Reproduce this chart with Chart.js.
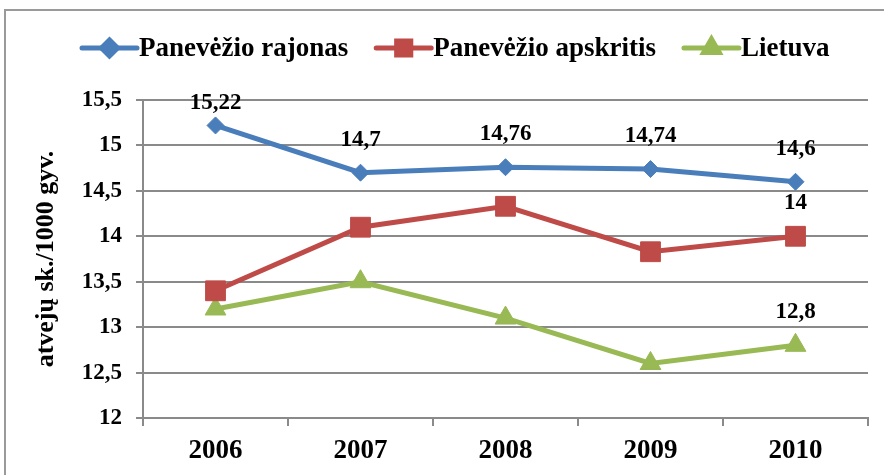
<!DOCTYPE html>
<html>
<head>
<meta charset="utf-8">
<script src="https://cdn.jsdelivr.net/npm/chart.js@4/dist/chart.umd.min.js"></script>
<style>
body { margin: 0; background: #fff; }
#wrap { position: relative; width: 884px; height: 475px; }
</style>
</head>
<body>
<div id="wrap"><canvas id="chart_1" width="884" height="475"></canvas></div>
<script>
const years = ["2006", "2007", "2008", "2009", "2010"]
const rajonas = [15.22, 14.7, 14.76, 14.74, 14.6]
const apskritis = [13.4, 14.1, 14.33, 13.83, 14]
const lietuva = [13.2, 13.5, 13.1, 12.6, 12.8]
const rajonas_labels = [true, true, true, true, true]
const apskritis_labels = [false, false, false, false, true]
const lietuva_labels = [false, false, false, false, true]
const y_ticks = [12, 12.5, 13, 13.5, 14, 14.5, 15, 15.5]

const serif = "'Liberation Serif', 'Times New Roman', serif"
const blue = "#4a7ebb"
const red = "#be4b48"
const green = "#98b954"
const grid_color = "#8a8a8a"

function comma(v){
    return String(v).replace(".", ",")
}

const value_labels = {
    id: "value_labels",
    afterDatasetsDraw(chart){
        let ctx = chart.ctx
        ctx.save()
        ctx.font = "bold 23px " + serif
        ctx.fillStyle = "#000"
        ctx.textAlign = "center"
        ctx.textBaseline = "middle"
        chart.data.datasets.forEach((ds, i) => {
            let meta = chart.getDatasetMeta(i)
            meta.data.forEach((pt, j) => {
                if(!ds.show_labels[j]) return
                let y = Math.max(pt.y - 33, chart.chartArea.top + 3)
                ctx.fillText(comma(ds.data[j]), pt.x, y)
            })
        })
        ctx.restore()
    }
}

const frame_and_legend = {
    id: "frame_and_legend",
    beforeDraw(chart){
        let ctx = chart.ctx
        ctx.save()
        ctx.strokeStyle = "#9a9a9a"
        ctx.lineWidth = 2
        ctx.beginPath()
        ctx.moveTo(5, 475)
        ctx.lineTo(5, 10)
        ctx.lineTo(884, 10)
        ctx.stroke()
        ctx.restore()
    },
    afterDraw(chart){
        let ctx = chart.ctx
        ctx.save()
        ctx.font = "bold 27px " + serif
        ctx.textBaseline = "middle"
        let x = 82
        let y = 48
        chart.data.datasets.forEach(ds => {
            ctx.strokeStyle = ds.borderColor
            ctx.lineWidth = 5
            ctx.lineCap = "round"
            ctx.beginPath()
            ctx.moveTo(x, y)
            ctx.lineTo(x + 55, y)
            ctx.stroke()
            Chart.helpers.drawPoint(ctx, {
                pointStyle: ds.pointStyle,
                radius: ds.legend_radius,
                borderWidth: 1,
                rotation: 0
            }, x + 27.5, y)
            ctx.fillStyle = ds.borderColor
            ctx.fill()
            ctx.fillStyle = "#000"
            ctx.fillText(ds.label, x + 57, y + 1)
            x += 57 + ctx.measureText(ds.label).width + 28
        })
        ctx.restore()
    }
}

function series(label, data, color, style, radius, legend_radius, shown){
    return {
        label: label,
        data: data,
        borderColor: color,
        backgroundColor: color,
        pointBackgroundColor: color,
        pointBorderColor: color,
        borderWidth: 5,
        pointStyle: style,
        pointRadius: radius,
        pointHoverRadius: radius,
        pointBorderWidth: 1,
        legend_radius: legend_radius,
        show_labels: shown,
        tension: 0
    }
}

const ctx_1 = document.getElementById("chart_1").getContext("2d")
const chart_1 = new Chart(ctx_1, {
    type: "line",
    data: {
        labels: years,
        datasets: [
            series("Panevėžio rajonas", rajonas, blue, "rectRot", 8.5, 8, rajonas_labels),
            series("Panevėžio apskritis", apskritis, red, "rect", 14, 10, apskritis_labels),
            series("Lietuva", lietuva, green, "triangle", 12, 9, lietuva_labels)
        ]
    },
    options: {
        responsive: false,
        animation: false,
        layout: { padding: { top: 100, right: 16, bottom: 17, left: 0 } },
        plugins: {
            legend: { display: false },
            tooltip: { enabled: false }
        },
        scales: {
            x: {
                offset: true,
                grid: {
                    offset: true,
                    drawOnChartArea: false,
                    color: grid_color,
                    lineWidth: 2,
                    tickLength: 8
                },
                border: { color: grid_color, width: 2 },
                ticks: {
                    color: "#000",
                    font: { family: serif, size: 27, weight: "bold" },
                    padding: 9
                },
                afterFit: s => { s.height = 40 }
            },
            y: {
                min: 12,
                max: 15.5,
                afterBuildTicks: s => { s.ticks = y_ticks.map(v => ({ value: v })) },
                grid: { color: grid_color, lineWidth: 2, tickLength: 7 },
                border: { color: grid_color, width: 2 },
                ticks: {
                    color: "#000",
                    font: { family: serif, size: 23, weight: "bold" },
                    padding: 14,
                    callback: v => comma(v)
                },
                title: {
                    display: true,
                    text: "atvejų sk./1000 gyv.",
                    color: "#000",
                    font: { family: serif, size: 26, weight: "bold" },
                    padding: { top: 31, bottom: 0 }
                },
                afterFit: s => { s.width = 143 }
            }
        }
    },
    plugins: [value_labels, frame_and_legend]
})
</script>
</body>
</html>
